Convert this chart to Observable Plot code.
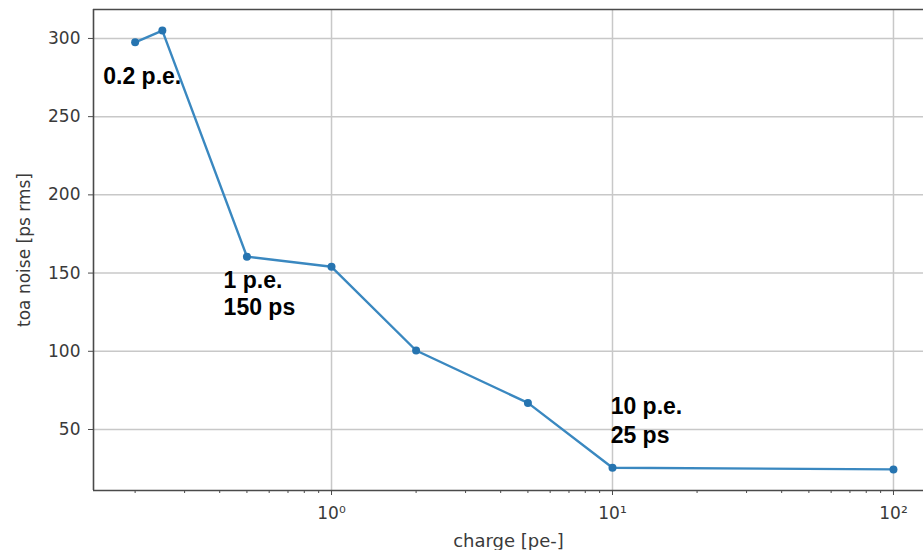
<!DOCTYPE html>
<html>
<head>
<meta charset="utf-8">
<script src="https://cdn.jsdelivr.net/npm/d3@7"></script>
<script src="https://cdn.jsdelivr.net/npm/@observablehq/plot@0.6"></script>
<style>
  html, body { margin: 0; padding: 0; background: #fff; overflow: hidden; }
  #chart { width: 923px; height: 550px; }
</style>
</head>
<body>
<div id="chart"></div>
<script>
// Data
const charge = [0.2, 0.25, 0.5, 1, 2, 5, 10, 100];
const noise = [297.5, 305, 160.5, 154, 100.5, 67, 25.5, 24.5];

// Axes ticks
const xTicks = [1, 10, 100];
const xTickLabels = ["10⁰", "10¹", "10²"];
const xMinorTicks = [0.2, 0.3, 0.4, 0.5, 0.6, 0.7, 0.8, 0.9,
                     2, 3, 4, 5, 6, 7, 8, 9,
                     20, 30, 40, 50, 60, 70, 80, 90];
const yTicks = [50, 100, 150, 200, 250, 300];
const xDomain = [0.1422, 127.9];
const yDomain = [11.0, 318.5];

// Annotations
const annText = ["0.2 p.e.", "1 p.e.", "150 ps", "10 p.e.", "25 ps"];
const annX = [0.154, 0.413, 0.413, 9.85, 9.85];
const annY = [275.4, 145.3, 127.7, 64.4, 46.2];

const points = charge.map((c, i) => ({charge: c, noise: noise[i]}));
const notes = annText.map((t, i) => ({text: t, x: annX[i], y: annY[i]}));

const gridStyle = {stroke: "#c8c8c8", strokeOpacity: 1, strokeWidth: 1.5};
const spine = {stroke: "#4a4a4a", strokeWidth: 1.6};

const chart = Plot.plot({
  width: 923,
  height: 550,
  marginLeft: 93,
  marginRight: 0,
  marginTop: 9,
  marginBottom: 60,
  style: {fontFamily: "DejaVu Sans", fontSize: "17px", color: "#3a3a3a", background: "#fff"},
  x: {type: "log", domain: xDomain},
  y: {domain: yDomain},
  marks: [
    Plot.gridX(xTicks, gridStyle),
    Plot.gridY(yTicks, gridStyle),
    Plot.axisX(xMinorTicks, {tickSize: 3, text: null, label: null, stroke: "#4a4a4a"}),
    Plot.axisX(xTicks, {
      tickSize: 5, tickPadding: 11, stroke: "#4a4a4a",
      tickFormat: d => xTickLabels[xTicks.indexOf(d)],
      label: null
    }),
    Plot.axisX([], {
      tickSize: 0, fontSize: 18,
      label: "charge [pe-]", labelAnchor: "center", labelOffset: 56, labelArrow: "none"
    }),
    Plot.axisY(yTicks, {
      tickSize: 5, tickPadding: 8, stroke: "#4a4a4a",
      label: "toa noise [ps rms]", labelAnchor: "center", labelOffset: 76, labelArrow: "none"
    }),
    Plot.ruleX([xDomain[0]], spine),
    Plot.ruleY([yDomain[0]], spine),
    Plot.ruleY([yDomain[1]], spine),
    Plot.line(points, {x: "charge", y: "noise", stroke: "#3a88c0", strokeWidth: 2.4}),
    Plot.dot(points, {x: "charge", y: "noise", r: 4, fill: "#2674b0", stroke: "none"}),
    Plot.text(notes, {
      x: "x", y: "y", text: "text", textAnchor: "start",
      fontFamily: "Liberation Sans, Arial, sans-serif", fontWeight: "bold",
      fontSize: 23, fill: "#000"
    })
  ]
});
document.getElementById("chart").append(chart);
</script>
</body>
</html>
